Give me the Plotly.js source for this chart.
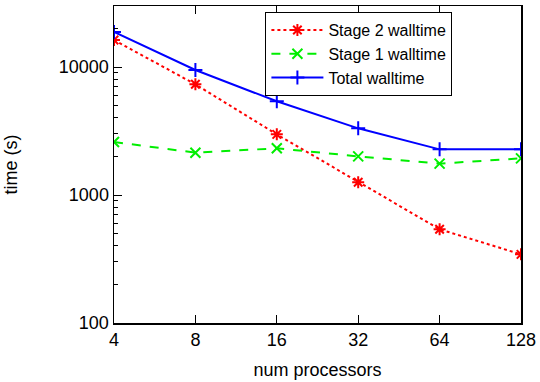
<!DOCTYPE html>
<html>
<head>
<meta charset="utf-8">
<script src="https://cdn.plot.ly/plotly-3.0.1.min.js"></script>
<style>html,body{margin:0;padding:0;background:#fff;}#chart{width:540px;height:382px;}</style>
</head>
<body>
<div id="chart"></div>
<script>
const processors = [4, 8, 16, 32, 64, 128];
const stage2Walltime = [16250, 7330, 2980, 1260, 540, 344];
const stage1Walltime = [2595, 2143, 2317, 2005, 1759, 1935];
const totalWalltime = [18800, 9480, 5400, 3320, 2275, 2275];
const xTickLabels = ['4', '8', '16', '32', '64', '128'];
const yTickVals = [100, 1000, 10000];
const yTickLabels = ['100', '1000', '10000'];
const yMinorVals = [200,300,400,500,600,700,800,900,2000,3000,4000,5000,6000,7000,8000,9000,20000,30000];

const FONT = 'Liberation Sans, Arial, Helvetica, sans-serif';
const FS = 18;

const traces = [
  {x: processors, y: stage2Walltime, name: 'Stage 2 walltime', mode: 'lines+markers',
   line: {color: '#ff0000', width: 2, dash: 'dot'},
   marker: {symbol: 'asterisk-open', size: 10, color: '#ff0000', line: {color: '#ff0000', width: 2}}},
  {x: processors, y: stage1Walltime, name: 'Stage 1 walltime', mode: 'lines+markers',
   line: {color: '#00ee00', width: 2, dash: 'dash'},
   marker: {symbol: 'x-thin-open', size: 10, color: '#00ee00', line: {color: '#00ee00', width: 2}}},
  {x: processors, y: totalWalltime, name: 'Total walltime', mode: 'lines+markers',
   line: {color: '#0000ff', width: 2},
   marker: {symbol: 'cross-thin-open', size: 10, color: '#0000ff', line: {color: '#0000ff', width: 2}}}
];

const layout = {
  width: 540, height: 382,
  margin: {l: 114, r: 19, t: 6, b: 59},
  paper_bgcolor: '#fff', plot_bgcolor: '#fff',
  font: {family: FONT, size: FS, color: '#000'},
  showlegend: true,
  legend: {x: 0.372, y: 0.981, xanchor: 'left', yanchor: 'top',
           bgcolor: '#fff', bordercolor: '#000', borderwidth: 1,
           itemwidth: 52,
           font: {family: FONT, size: 16, color: '#000'}, tracegroupgap: 0},
  xaxis: {type: 'log', range: [Math.log10(4), Math.log10(128)],
          tickvals: processors, ticktext: xTickLabels,
          ticks: 'inside', ticklen: 8, tickwidth: 1, tickcolor: '#000',
          showline: true, linecolor: '#000', linewidth: 1.5, mirror: 'ticks',
          showgrid: false, zeroline: false,
          title: {text: 'num processors', font: {family: FONT, size: FS}, standoff: 14}},
  yaxis: {type: 'log', range: [2, Math.log10(30000)],
          tickvals: yTickVals, ticktext: yTickLabels,
          ticks: 'inside', ticklen: 8, tickwidth: 1, tickcolor: '#000',
          minor: {tickvals: yMinorVals, ticks: 'inside', ticklen: 4, tickwidth: 1, tickcolor: '#000', showgrid: false},
          showline: true, linecolor: '#000', linewidth: 1.5, mirror: true,
          showgrid: false, zeroline: false,
          title: {text: 'time (s)', font: {family: FONT, size: FS}, standoff: 36}}
};

Plotly.newPlot('chart', traces, layout, {staticPlot: true, displayModeBar: false});
</script>
</body>
</html>
